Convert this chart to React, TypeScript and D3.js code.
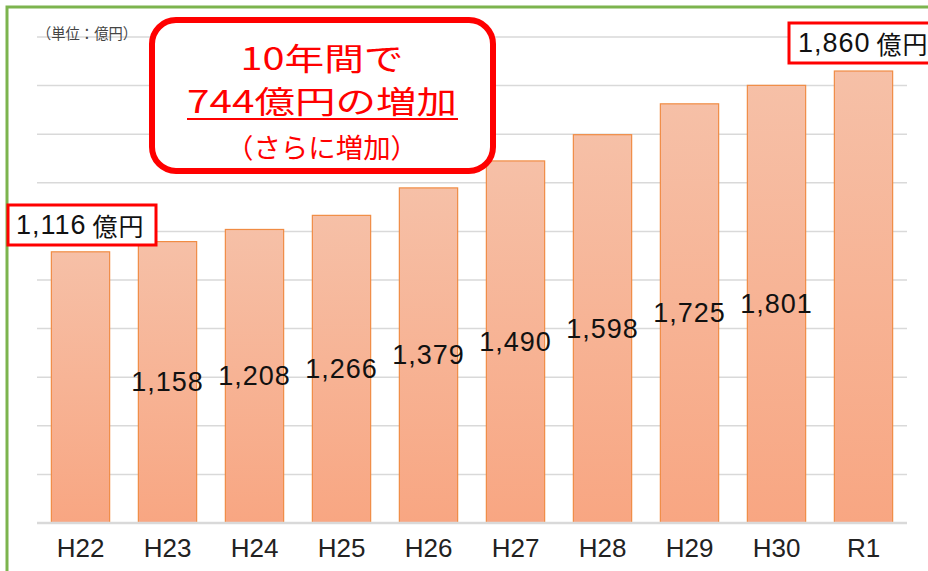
import { useEffect, useRef } from "react";
import * as d3 from "d3";

const years = ["H22", "H23", "H24", "H25", "H26", "H27", "H28", "H29", "H30", "R1"];
const values = [1116, 1158, 1208, 1266, 1379, 1490, 1598, 1725, 1801, 1860];
const yTicks = [0, 200, 400, 600, 800, 1000, 1200, 1400, 1600, 1800, 2000];

const W = 928;
const H = 571;

export default function App() {
  const svgRef = useRef<SVGSVGElement | null>(null);

  useEffect(() => {
    document.body.style.margin = "0";
    const el = svgRef.current;
    if (!el) return;
    d3.select(el).selectAll("*").remove();
    const svg = d3.select(el);

    const x = d3.scaleBand().domain(years).range([37, 907]).paddingInner(0.33).paddingOuter(0.165);
    const y = d3.scaleLinear().domain([0, 2000]).range([523, 37]);

    const defs = svg.append("defs");
    const grad = defs.append("linearGradient").attr("id", "barGrad").attr("x1", "0").attr("x2", "0").attr("y1", "0").attr("y2", "1");
    grad.append("stop").attr("offset", "0%").attr("stop-color", "#f6c0a7");
    grad.append("stop").attr("offset", "100%").attr("stop-color", "#f8a682");

    // green frame (runs off the right and bottom)
    svg.append("rect")
      .attr("x", 7).attr("y", 7).attr("width", 960).attr("height", 620)
      .attr("fill", "#fff").attr("stroke", "#7cb44e").attr("stroke-width", 3);

    // gridlines
    svg.append("g").selectAll("line").data(yTicks.slice(1)).join("line")
      .attr("x1", 37).attr("x2", 907)
      .attr("y1", d => y(d)).attr("y2", d => y(d))
      .attr("stroke", "#d9d9d9").attr("stroke-width", 1.5);

    // bars
    svg.append("g").selectAll("rect").data(values).join("rect")
      .attr("x", (d, i) => x(years[i])!)
      .attr("y", d => y(d))
      .attr("width", x.bandwidth())
      .attr("height", d => y(0) - y(d))
      .attr("fill", "url(#barGrad)")
      .attr("stroke", "#f08c44").attr("stroke-width", 1.2);

    // baseline
    svg.append("line")
      .attr("x1", 37).attr("x2", 907).attr("y1", y(0)).attr("y2", y(0))
      .attr("stroke", "#d9d9d9").attr("stroke-width", 2.5);

    // x axis labels
    svg.append("g").selectAll("text").data(years).join("text")
      .attr("x", d => x(d)! + x.bandwidth() / 2)
      .attr("y", 548)
      .attr("text-anchor", "middle").attr("dominant-baseline", "central")
      .attr("font-family", "Liberation Sans, Arial, sans-serif").attr("font-size", 26)
      .attr("fill", "#222")
      .text(d => d);

    // data labels at bar centre (first and last shown as callouts)
    const fmt = d3.format(",");
    svg.append("g").selectAll("text").data(values.slice(1, -1)).join("text")
      .attr("x", (d, i) => x(years[i + 1])! + x.bandwidth() / 2)
      .attr("y", d => y(d / 2))
      .attr("text-anchor", "middle").attr("dominant-baseline", "central")
      .attr("font-family", "Liberation Sans, Arial, sans-serif").attr("font-size", 27)
      .attr("letter-spacing", 1)
      .attr("fill", "#111")
      .text(d => fmt(d));

    // unit label
    svg.append("text")
      .attr("x", 37).attr("y", 32).attr("dominant-baseline", "central")
      .attr("font-family", "Noto Sans CJK JP, sans-serif").attr("font-size", 15)
      .attr("textLength", 100).attr("lengthAdjust", "spacingAndGlyphs")
      .attr("fill", "#444")
      .text("（単位：億円）");

    // callout boxes
    const callout = (bx: number, by: number, bw: number, bh: number, tx: number, label: string) => {
      svg.append("rect").attr("x", bx).attr("y", by).attr("width", bw).attr("height", bh)
        .attr("fill", "#fff").attr("stroke", "#ff0000").attr("stroke-width", 3);
      const t = svg.append("text").attr("x", tx).attr("y", by + bh / 2)
        .attr("dominant-baseline", "central")
        .attr("font-family", "Liberation Sans, Arial, sans-serif").attr("font-size", 27)
        .attr("letter-spacing", 1).attr("fill", "#111");
      t.append("tspan").text(label);
      t.append("tspan").attr("dx", 6).attr("font-family", "Noto Sans CJK JP, sans-serif").attr("font-size", 25).text("億円");
    };
    callout(8, 205, 148, 40, 16, fmt(values[0]));
    callout(789, 23, 160, 40, 798, fmt(values[values.length - 1]));

    // headline box
    svg.append("rect")
      .attr("x", 152).attr("y", 20).attr("width", 341).attr("height", 151).attr("rx", 24)
      .attr("fill", "#fff").attr("stroke", "#ff0000").attr("stroke-width", 6);
    const head = svg.append("g").attr("fill", "#ff0000")
      .attr("font-family", "Noto Sans CJK JP, sans-serif").attr("text-anchor", "middle");
    head.append("text").attr("x", 322).attr("y", 56).attr("dominant-baseline", "central")
      .attr("font-size", 31).attr("textLength", 163).attr("lengthAdjust", "spacingAndGlyphs").text("10年間で");
    head.append("text").attr("x", 322).attr("y", 99).attr("dominant-baseline", "central")
      .attr("font-size", 31).attr("textLength", 270).attr("lengthAdjust", "spacingAndGlyphs").text("744億円の増加");
    head.append("line").attr("x1", 187).attr("x2", 458).attr("y1", 119).attr("y2", 119)
      .attr("stroke", "#ff0000").attr("stroke-width", 2);
    head.append("text").attr("x", 322).attr("y", 146).attr("dominant-baseline", "central")
      .attr("font-size", 27).attr("textLength", 192).attr("lengthAdjust", "spacingAndGlyphs").text("（さらに増加）");
  }, []);

  return <svg ref={svgRef} width={W} height={H} style={{ display: "block" }} />;
}
